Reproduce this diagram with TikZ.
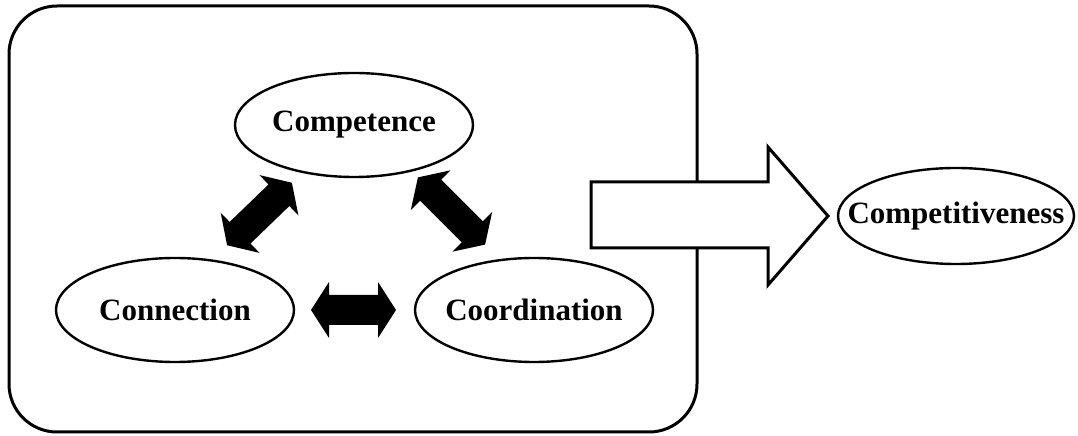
\documentclass[tikz,border=0pt]{standalone}
\usepackage{fontspec}
\setmainfont{Liberation Serif}
\usetikzlibrary{shapes.geometric}
% solid double-headed arrow: #1 centre, #2 angle, #3 half length
\newcommand\dblarrow[3]{%
  \begin{scope}[shift={#1},rotate=#2]
    \fill[black] (-#3,0) -- ({-#3+18},28) -- ({-#3+18},15) -- ({#3-18},15) -- ({#3-18},28)
      -- (#3,0) -- ({#3-18},-28) -- ({#3-18},-15) -- ({-#3+18},-15) -- ({-#3+18},-28) -- cycle;
  \end{scope}}
\begin{document}
\begin{tikzpicture}[x=1pt,y=1pt,
  concept/.style={ellipse,draw,line width=2.4pt,fill=white,inner xsep=-12pt,inner ysep=0pt,
    minimum width=238pt,minimum height=104pt,
    font=\fontsize{31}{37}\selectfont\bfseries}]
\useasboundingbox (0,0) rectangle (1078,436);
% framing box
\draw[line width=3pt,rounded corners=48pt] (9,4) rectangle (697,430);
% the three C's
\node[concept] (cpt) at (354,311) {Competence};
\node[concept] (con) at (175,126) {Connection};
\node[concept] (coo) at (534,126) {Coordination};
\node[concept,inner xsep=-27pt,minimum width=236pt,minimum height=96pt] (cmp) at (956,220) {Competitiveness};
% links between them
\dblarrow{(353.5,126)}{0}{42.5}
\dblarrow{(259.5,222)}{44}{45}
\dblarrow{(451.5,225)}{-45}{47.5}
% outline arrow towards the result
\coordinate (s1) at (591,254);
\coordinate (s2) at (591,188);
\coordinate (tip) at (828,220);
\draw[line width=3pt,fill=white,line join=miter]
  (s1) -- (768,254) -- (768,289) -- (tip) -- (768,151) -- (768,188) -- (s2) -- cycle;
\end{tikzpicture}
\end{document}
